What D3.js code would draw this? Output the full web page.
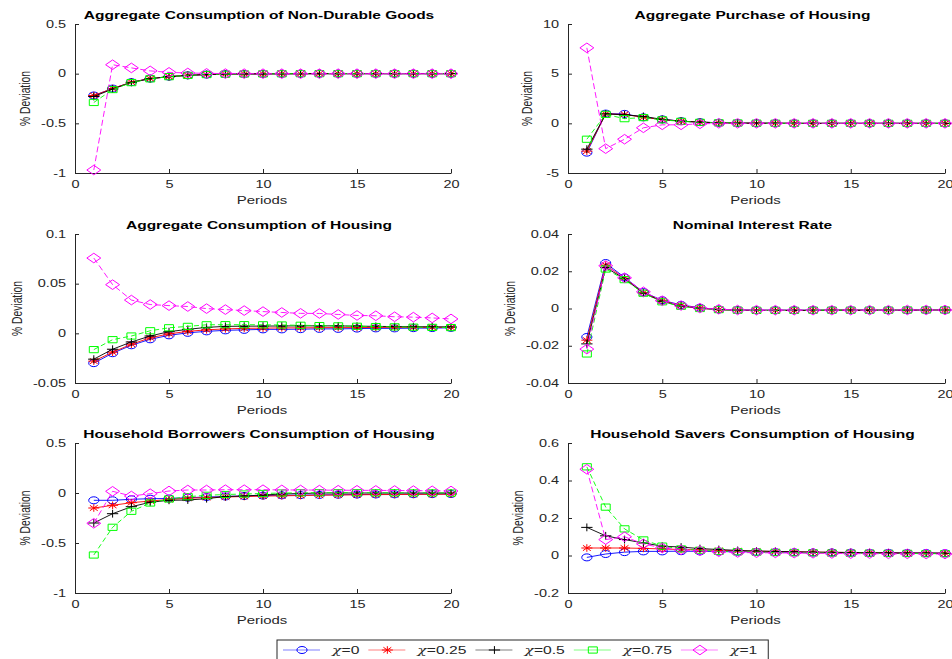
<!DOCTYPE html>
<html>
<head>
<meta charset="utf-8">
<script src="https://cdn.jsdelivr.net/npm/d3@7"></script>
<style>
body { margin: 0; background: #fff; }
svg { display: block; font-family: "Liberation Sans", Arial, sans-serif; }
</style>
</head>
<body>
<div id="chart"></div>
<script>
// periods on the x axis
const periods = [1, 2, 3, 4, 5, 6, 7, 8, 9, 10, 11, 12, 13, 14, 15, 16, 17, 18, 19, 20];
const xTicks = [0, 5, 10, 15, 20];

// one entry per chi value
const chiValues = ['0', '0.25', '0.5', '0.75', '1'];
const seriesColors = ['#0000ff', '#ff0000', '#000000', '#00ff00', '#ff00ff'];
const seriesDash = [null, null, null, '5,3', '6,3'];
const seriesMarkers = ['circle', 'star', 'plus', 'square', 'diamond'];

// Aggregate Consumption of Non-Durable Goods (chi = 0, 0.25, 0.5, 0.75, 1)
const nonDurable = [
    [-0.22, -0.15, -0.085, -0.05, -0.03, -0.017, -0.009, -0.005, -0.003, -0.002, -0.001, -0.001, 0, 0, 0, 0, 0, 0, 0, 0],
    [-0.22, -0.15, -0.085, -0.05, -0.03, -0.017, -0.009, -0.005, -0.003, -0.002, -0.001, -0.001, 0, 0, 0, 0, 0, 0, 0, 0],
    [-0.23, -0.155, -0.088, -0.05, -0.03, -0.017, -0.009, -0.005, -0.003, -0.002, -0.001, 0, 0, 0, 0, 0, 0, 0, 0, 0],
    [-0.29, -0.16, -0.09, -0.052, -0.03, -0.017, -0.009, -0.005, -0.003, -0.002, -0.001, 0, 0, 0, 0, 0, 0, 0, 0, 0],
    [-0.97, 0.09, 0.058, 0.028, 0.013, 0.007, 0.003, 0.001, 0, 0, 0, 0, 0, 0, 0, 0, 0, 0, 0, 0]
];

// Aggregate Purchase of Housing
const housingPurchase = [
    [-2.95, 0.98, 0.95, 0.6, 0.4, 0.22, 0.12, 0.06, 0.03, 0.015, 0.01, 0, 0, 0, 0, 0, 0, 0, 0, 0],
    [-2.8, 0.95, 0.9, 0.6, 0.38, 0.22, 0.12, 0.06, 0.03, 0.015, 0.01, 0, 0, 0, 0, 0, 0, 0, 0, 0],
    [-2.6, 0.95, 0.85, 0.7, 0.4, 0.22, 0.12, 0.06, 0.03, 0.015, 0.01, 0, 0, 0, 0, 0, 0, 0, 0, 0],
    [-1.6, 0.9, 0.47, 0.58, 0.35, 0.2, 0.1, 0.05, 0.03, 0.015, 0.01, 0, 0, 0, 0, 0, 0, 0, 0, 0],
    [7.6, -2.55, -1.6, -0.45, -0.15, -0.15, -0.05, 0, 0, 0, 0, 0, 0, 0, 0, 0, 0, 0, 0, 0]
];

// Aggregate Consumption of Housing
const housingConsumption = [
    [-0.03, -0.02, -0.012, -0.006, -0.002, 0.0005, 0.002, 0.003, 0.0035, 0.004, 0.004, 0.0042, 0.0045, 0.0045, 0.0048, 0.005, 0.005, 0.0052, 0.0053, 0.0055],
    [-0.028, -0.019, -0.011, -0.0045, -0.0005, 0.002, 0.0035, 0.0045, 0.005, 0.0052, 0.0055, 0.0055, 0.0057, 0.0058, 0.0058, 0.0059, 0.006, 0.006, 0.006, 0.006],
    [-0.026, -0.016, -0.0087, -0.0027, 0.0017, 0.004, 0.006, 0.007, 0.0072, 0.0073, 0.0074, 0.0075, 0.0075, 0.0075, 0.0072, 0.007, 0.0068, 0.0067, 0.0066, 0.0065],
    [-0.0164, -0.0064, -0.0027, 0.0026, 0.0056, 0.007, 0.0086, 0.0087, 0.0087, 0.0086, 0.0084, 0.0081, 0.0078, 0.0075, 0.0071, 0.0068, 0.0065, 0.0062, 0.006, 0.0058],
    [0.0758, 0.049, 0.0335, 0.029, 0.0279, 0.027, 0.0249, 0.0239, 0.0229, 0.0219, 0.021, 0.0201, 0.02, 0.019, 0.018, 0.0177, 0.0167, 0.0163, 0.0155, 0.0145]
];

// Nominal Interest Rate
const interestRate = [
    [-0.0153, 0.0244, 0.0167, 0.0088, 0.0044, 0.0019, 0.0004, -0.0005, -0.0008, -0.0009, -0.0009, -0.0009, -0.0009, -0.0009, -0.0009, -0.0009, -0.0009, -0.0009, -0.0008, -0.0008],
    [-0.017, 0.0233, 0.0163, 0.0085, 0.0041, 0.0016, 0.0002, -0.0006, -0.0009, -0.001, -0.001, -0.001, -0.001, -0.0009, -0.0009, -0.0009, -0.0009, -0.0009, -0.0008, -0.0008],
    [-0.019, 0.022, 0.016, 0.0082, 0.0038, 0.0013, 0.0001, -0.0006, -0.0009, -0.001, -0.001, -0.001, -0.001, -0.0009, -0.0009, -0.0009, -0.0009, -0.0009, -0.0008, -0.0008],
    [-0.0244, 0.0212, 0.0155, 0.0082, 0.0036, 0.0012, 0, -0.0006, -0.0009, -0.001, -0.001, -0.001, -0.0009, -0.0009, -0.0009, -0.0009, -0.0009, -0.0008, -0.0008, -0.0008],
    [-0.0218, 0.023, 0.0165, 0.009, 0.0042, 0.0016, 0.0002, -0.0004, -0.0008, -0.0009, -0.0009, -0.0009, -0.0009, -0.0009, -0.0009, -0.0009, -0.0009, -0.0008, -0.0008, -0.0008]
];

// Household Borrowers Consumption of Housing
const borrowersHousing = [
    [-0.073, -0.073, -0.063, -0.057, -0.055, -0.047, -0.04, -0.035, -0.03, -0.026, -0.023, -0.021, -0.019, -0.017, -0.015, -0.014, -0.013, -0.012, -0.011, -0.01],
    [-0.15, -0.123, -0.097, -0.08, -0.065, -0.052, -0.045, -0.04, -0.035, -0.031, -0.028, -0.025, -0.022, -0.02, -0.018, -0.016, -0.015, -0.014, -0.013, -0.012],
    [-0.3, -0.207, -0.137, -0.093, -0.073, -0.07, -0.057, -0.035, -0.03, -0.02, -0.01, -0.005, 0, 0, 0, 0, 0, 0, 0, 0],
    [-0.62, -0.343, -0.183, -0.1, -0.06, -0.037, -0.023, -0.015, -0.01, -0.005, 0, 0.002, 0.003, 0.003, 0.003, 0.002, 0.002, 0.001, 0.001, 0],
    [-0.303, 0.017, -0.03, -0.007, 0.02, 0.03, 0.03, 0.033, 0.033, 0.033, 0.031, 0.03, 0.029, 0.028, 0.027, 0.026, 0.025, 0.024, 0.022, 0.02]
];

// Household Savers Consumption of Housing
const saversHousing = [
    [-0.01, 0.008, 0.018, 0.022, 0.022, 0.023, 0.022, 0.021, 0.02, 0.019, 0.018, 0.017, 0.016, 0.016, 0.015, 0.014, 0.014, 0.013, 0.013, 0.012],
    [0.04, 0.04, 0.04, 0.038, 0.035, 0.032, 0.03, 0.027, 0.025, 0.023, 0.021, 0.02, 0.018, 0.017, 0.016, 0.015, 0.014, 0.013, 0.013, 0.012],
    [0.15, 0.105, 0.085, 0.067, 0.05, 0.045, 0.037, 0.032, 0.027, 0.024, 0.022, 0.02, 0.018, 0.017, 0.016, 0.015, 0.014, 0.013, 0.013, 0.012],
    [0.473, 0.258, 0.142, 0.083, 0.05, 0.035, 0.028, 0.022, 0.02, 0.018, 0.016, 0.015, 0.014, 0.013, 0.012, 0.012, 0.011, 0.011, 0.01, 0.01],
    [0.46, 0.085, 0.1, 0.062, 0.04, 0.03, 0.025, 0.02, 0.016, 0.015, 0.014, 0.013, 0.012, 0.011, 0.01, 0.01, 0.009, 0.009, 0.008, 0.008]
];

const panelTitles = [
    'Aggregate Consumption of Non-Durable Goods', 'Aggregate Purchase of Housing',
    'Aggregate Consumption of Housing', 'Nominal Interest Rate',
    'Household Borrowers Consumption of Housing', 'Household Savers Consumption of Housing'
];
const panelData = [nonDurable, housingPurchase, housingConsumption, interestRate, borrowersHousing, saversHousing];
const yDomains = [[-1, 0.5], [-5, 10], [-0.05, 0.1], [-0.04, 0.04], [-1, 0.5], [-0.2, 0.6]];
const yTicks = [
    [-1, -0.5, 0, 0.5], [-5, 0, 5, 10],
    [-0.05, 0, 0.05, 0.1], [-0.04, -0.02, 0, 0.02, 0.04],
    [-1, -0.5, 0, 0.5], [-0.2, 0, 0.2, 0.4, 0.6]
];

// the figure looks horizontally stretched, so text and markers are too
const SX = 1.45;
const colRanges = [[75, 451], [568, 945]];
const rowRanges = [[173, 24], [383, 234], [593, 443]];
const axisColor = '#262626';

const svg = d3.select('#chart').append('svg')
    .attr('width', 952)
    .attr('height', 659);

function markerPath(type) {
    if (type === 'circle') {
        const r = 3.5;
        return 'M' + r + ',0A' + r + ',' + r + ' 0 1,1 ' + (-r) + ',0A' + r + ',' + r + ' 0 1,1 ' + r + ',0Z';
    }
    if (type === 'star') {
        const s = 3.8, d = 2.7;
        return 'M' + (-s) + ',0L' + s + ',0M0,' + (-s) + 'L0,' + s +
            'M' + (-d) + ',' + (-d) + 'L' + d + ',' + d + 'M' + (-d) + ',' + d + 'L' + d + ',' + (-d);
    }
    if (type === 'plus') {
        const s = 3.9;
        return 'M' + (-s) + ',0L' + s + ',0M0,' + (-s) + 'L0,' + s;
    }
    if (type === 'square') {
        const s = 3.1;
        return 'M' + (-s) + ',' + (-s) + 'L' + s + ',' + (-s) + 'L' + s + ',' + s + 'L' + (-s) + ',' + s + 'Z';
    }
    const s = 4.8;
    return 'M0,' + (-s) + 'L' + s + ',0L0,' + s + 'L' + (-s) + ',0Z';
}

function stretchedText(g, x, y, str) {
    return g.append('text')
        .attr('transform', 'translate(' + x + ',' + y + ') scale(' + SX + ',1)')
        .text(str);
}

panelData.forEach(function(series, p) {
    const col = p % 2, row = Math.floor(p / 2);
    const x = d3.scaleLinear().domain([0, 20]).range(colRanges[col]);
    const y = d3.scaleLinear().domain(yDomains[p]).range(rowRanges[row]);
    const g = svg.append('g');

    // axes, ticks pointing inward
    const xAxisG = g.append('g')
        .attr('transform', 'translate(0,' + y.range()[0] + ')')
        .call(d3.axisBottom(x).tickValues(xTicks).tickSizeInner(-4).tickSizeOuter(0).tickPadding(7.5));
    const yAxisG = g.append('g')
        .attr('transform', 'translate(' + x.range()[0] + ',0)')
        .call(d3.axisLeft(y).tickValues(yTicks[p]).tickFormat(d => String(d)).tickSizeInner(-4).tickSizeOuter(0));
    [xAxisG, yAxisG].forEach(function(a) {
        a.select('.domain').attr('stroke', axisColor);
        a.selectAll('.tick line').attr('stroke', axisColor);
        a.selectAll('.tick text')
            .attr('fill', axisColor)
            .style('font-size', '10px')
            .attr('transform', 'scale(' + SX + ',1)');
    });
    yAxisG.selectAll('.tick text').attr('x', -9 / SX);

    // lines then markers
    series.forEach(function(vals, s) {
        const line = d3.line()
            .x((d, i) => x(periods[i]))
            .y(d => y(d));
        g.append('path')
            .datum(vals)
            .attr('fill', 'none')
            .attr('stroke', seriesColors[s])
            .attr('stroke-width', 0.9)
            .attr('stroke-dasharray', seriesDash[s])
            .attr('d', line);
        g.selectAll('.m' + s)
            .data(vals)
            .enter().append('path')
            .attr('class', 'm' + s)
            .attr('transform', (d, i) => 'translate(' + x(periods[i]) + ',' + y(d) + ') scale(' + SX + ',1)')
            .attr('d', markerPath(seriesMarkers[s]))
            .attr('fill', 'none')
            .attr('stroke', seriesColors[s])
            .attr('stroke-width', 1)
            .attr('vector-effect', 'non-scaling-stroke');
    });

    // title and labels
    const cx = (x.range()[0] + x.range()[1]) / 2;
    stretchedText(g, cx - 4, y.range()[1] - 5, panelTitles[p])
        .attr('text-anchor', 'middle')
        .style('font-size', '10.7px')
        .style('font-weight', 'bold')
        .attr('fill', '#000');
    stretchedText(g, cx - 1, y.range()[0] + 31, 'Periods')
        .attr('text-anchor', 'middle')
        .style('font-size', '10.3px')
        .attr('fill', axisColor);
    const bb = yAxisG.node().getBBox();
    const labelX = x.range()[0] + bb.x - 16;
    g.append('text')
        .attr('transform', 'translate(' + labelX + ',' + ((y.range()[0] + y.range()[1]) / 2) + ') scale(' + SX + ',1) rotate(-90)')
        .attr('text-anchor', 'middle')
        .attr('dy', '0.35em')
        .style('font-size', '10.3px')
        .attr('fill', axisColor)
        .text('% Deviation');
});

// legend
const legend = svg.append('g');
const legendLeft = 277, legendTop = 640, legendMid = 650;
let cursor = legendLeft + 6;
chiValues.forEach(function(v, s) {
    legend.append('line')
        .attr('x1', cursor).attr('x2', cursor + 37)
        .attr('y1', legendMid).attr('y2', legendMid)
        .attr('stroke', seriesColors[s])
        .attr('stroke-opacity', 0.5);
    legend.append('path')
        .attr('transform', 'translate(' + (cursor + 19) + ',' + legendMid + ') scale(' + SX + ',1)')
        .attr('d', markerPath(seriesMarkers[s]))
        .attr('fill', 'none')
        .attr('stroke', seriesColors[s])
        .attr('vector-effect', 'non-scaling-stroke');
    cursor += 37 + 12;
    const t = stretchedText(legend, cursor, legendMid + 4, '')
        .style('font-size', '10.8px')
        .attr('fill', axisColor);
    t.append('tspan').style('font-family', '"DejaVu Serif", serif').style('font-style', 'italic').text('χ');
    t.append('tspan').text('=' + v);
    cursor += t.node().getComputedTextLength() * SX + 9;
});
legend.insert('rect', ':first-child')
    .attr('x', legendLeft).attr('y', legendTop)
    .attr('width', cursor - legendLeft + 2).attr('height', 24)
    .attr('fill', '#fff')
    .attr('stroke', axisColor)
    .attr('stroke-width', 1);
</script>
</body>
</html>
